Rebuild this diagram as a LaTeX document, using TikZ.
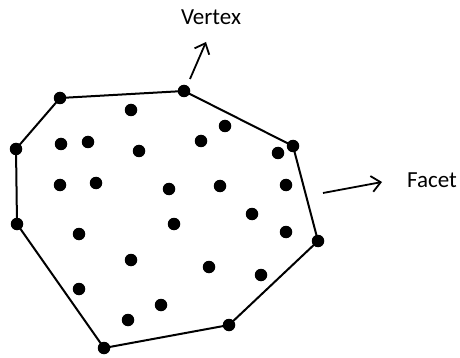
\documentclass[tikz,border=0pt]{standalone}
\usepackage{fontspec}
\setmainfont{Carlito}
\usetikzlibrary{arrows.meta}

\begin{document}
\begin{tikzpicture}[x=1pt, y=-1pt,
  pt/.style={circle, fill=black, inner sep=0pt, minimum size=12.5pt},
  hull/.style={line width=2pt, line join=round},
  callout/.style={line width=1.8pt, -{Straight Barb[length=9pt, width=16pt, line width=1.8pt]}},
  lbl/.style={font=\fontsize{23}{27}\selectfont, inner sep=0pt, anchor=base}]
\useasboundingbox (0,0) rectangle (460,358);
% hull vertices
\node[pt] (h1) at (60,98)   {};
\node[pt] (h2) at (184,91)  {};
\node[pt] (h3) at (293,146) {};
\node[pt] (h4) at (318,241) {};
\node[pt] (h5) at (229,325) {};
\node[pt] (h6) at (104,348) {};
\node[pt] (h7) at (17,224)  {};
\node[pt] (h8) at (16,149)  {};
\draw[hull] (h1.center) -- (h2.center) -- (h3.center) -- (h4.center) -- (h5.center)
  -- (h6.center) -- (h7.center) -- (h8.center) -- cycle;
% interior points
\foreach \px/\py [count=\i] in {131/110, 61/144, 88/142, 139/151, 201/141, 225/126,
    278/153, 60/185, 96/183, 169/189, 220/186, 286/185, 79/234, 174/224,
    252/214, 286/232, 131/260, 209/267, 261/275, 79/289, 161/305, 128/320}
  \node[pt] (p\i) at (\px,\py) {};
% labels
\coordinate (vtail) at (190,79);
\coordinate (vhead) at (206,42);
\coordinate (ftail) at (323,193);
\coordinate (fhead) at (382,182);
\draw[callout] (vtail) -- (vhead);
\draw[callout] (ftail) -- (fhead);
\node[lbl] (vertex) at (211,25)  {Vertex};
\node[lbl] (facet)  at (432,187) {Facet};
\end{tikzpicture}
\end{document}
